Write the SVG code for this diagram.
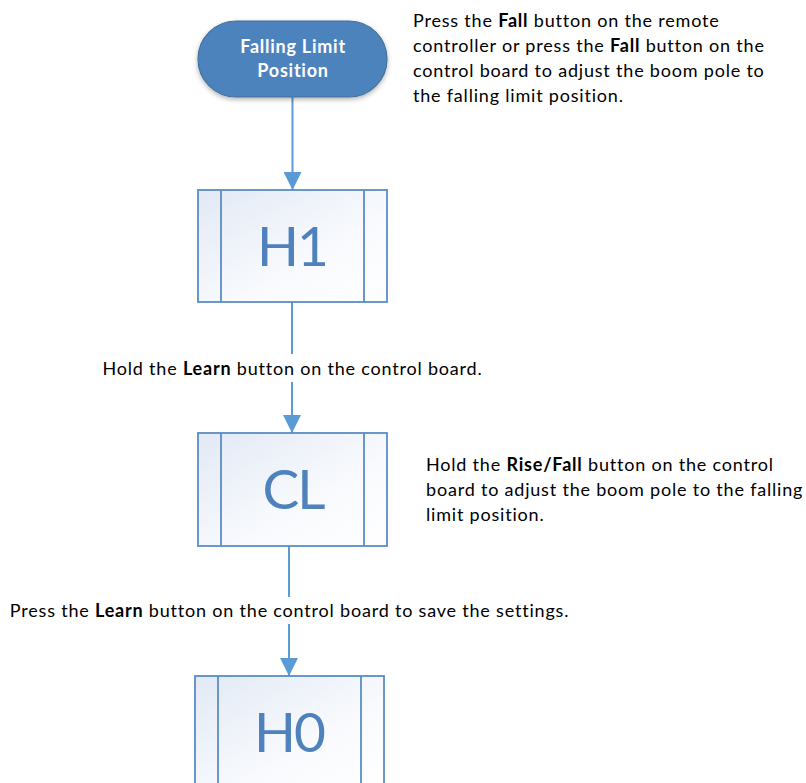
<svg xmlns="http://www.w3.org/2000/svg" width="806" height="783" viewBox="0 0 806 783">
  <style>
    .box { fill: url(#boxfill); stroke: #5a8dc4; stroke-width: 1.8; }
    .bar { stroke: #5a8dc4; stroke-width: 1.8; fill: none; }
    .big { font-family: Lato, "Liberation Sans", sans-serif; font-size: 55px; letter-spacing: -2px; fill: #4f81bd; text-anchor: middle; }
    .body { font-family: Lato, "Liberation Sans", sans-serif; font-size: 18px; letter-spacing: 0.8px; fill: #000000; }
    .term { font-family: Lato, "Liberation Sans", sans-serif; font-size: 18px; letter-spacing: 0.75px; font-weight: bold; fill: #ffffff; text-anchor: middle; }
    .conn { stroke: #5b9bd5; stroke-width: 2; fill: none; }
    .b { font-weight: bold; }
  </style>
  <defs>
    <linearGradient id="boxfill" x1="0" y1="0" x2="1" y2="1">
      <stop offset="0" stop-color="#e2e9f5"/>
      <stop offset="0.6" stop-color="#f8fafd"/>
      <stop offset="1" stop-color="#ffffff"/>
    </linearGradient>
    <filter id="shadow" x="-20%" y="-20%" width="140%" height="160%">
      <feDropShadow dx="0" dy="2" stdDeviation="2.5" flood-color="#000000" flood-opacity="0.3"/>
    </filter>
    <marker id="arrow" viewBox="0 0 18 18" refX="18" refY="9" markerWidth="18" markerHeight="18" markerUnits="userSpaceOnUse" orient="auto">
      <path d="M0,0 L18,9 L0,18 Z" fill="#5b9bd5"/>
    </marker>
  </defs>
  <rect width="806" height="783" fill="#ffffff"/>

  <g id="connectors">
    <path class="conn" d="M292.5 97 V190" marker-end="url(#arrow)"/>
    <path class="conn" d="M292 302 V354"/>
    <path class="conn" d="M292 382 V433" marker-end="url(#arrow)"/>
    <path class="conn" d="M289 546 V597"/>
    <path class="conn" d="M289 624 V676" marker-end="url(#arrow)"/>
  </g>

  <g id="start">
    <rect x="198" y="21" width="189" height="76" rx="38" ry="38" fill="#4e83bd" stroke="#41719c" stroke-width="1.2" filter="url(#shadow)"/>
    <text class="term" x="293" y="53">Falling Limit</text>
    <text class="term" x="293" y="77">Position</text>
  </g>

  <g id="note1">
    <text class="body" x="413" y="27">Press the <tspan class="b">Fall</tspan> button on the remote</text>
    <text class="body" x="413" y="52">controller or press the <tspan class="b">Fall</tspan> button on the</text>
    <text class="body" x="413" y="77">control board to adjust the boom pole to</text>
    <text class="body" x="413" y="102">the falling limit position.</text>
  </g>

  <g id="H1">
    <rect class="box" x="198" y="190" width="189" height="112"/>
    <line class="bar" x1="221" y1="190" x2="221" y2="302"/>
    <line class="bar" x1="364" y1="190" x2="364" y2="302"/>
    <text class="big" x="292" y="266">H1</text>
  </g>

  <g id="label1">
    <text class="body" x="292.5" y="375" text-anchor="middle">Hold the <tspan class="b">Learn</tspan> button on the control board.</text>
  </g>

  <g id="CL">
    <rect class="box" x="198" y="433" width="189" height="113"/>
    <line class="bar" x1="221" y1="433" x2="221" y2="546"/>
    <line class="bar" x1="364" y1="433" x2="364" y2="546"/>
    <text class="big" x="293" y="509">CL</text>
  </g>

  <g id="note2">
    <text class="body" x="426" y="471">Hold the <tspan class="b">Rise/Fall</tspan>  button on the control</text>
    <text class="body" x="426" y="496">board to adjust the boom pole to the falling</text>
    <text class="body" x="426" y="521">limit position.</text>
  </g>

  <g id="label2">
    <text class="body" x="289.5" y="617" text-anchor="middle">Press the <tspan class="b">Learn</tspan> button on the control board to save the settings.</text>
  </g>

  <g id="H0">
    <rect class="box" x="195" y="676" width="189" height="113"/>
    <line class="bar" x1="218" y1="676" x2="218" y2="789"/>
    <line class="bar" x1="361" y1="676" x2="361" y2="789"/>
    <text class="big" x="289" y="752">H0</text>
  </g>
</svg>
